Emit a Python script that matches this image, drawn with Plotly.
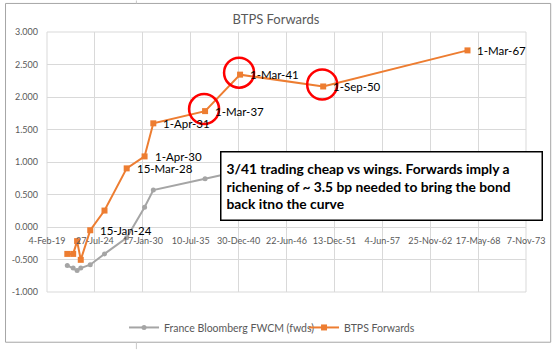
import plotly.graph_objects as go

# ---- data ----
dates = ["2021-06-01", "2022-02-01", "2022-07-15", "2022-12-15", "2024-01-15",
         "2025-09-01", "2028-03-15", "2030-04-01", "2031-04-01", "2037-03-01",
         "2041-03-01", "2050-09-01", "2067-03-01"]
btps_fwd = [-0.414, -0.414, -0.217, -0.505, -0.050, 0.253, 0.902, 1.086,
            1.595, 1.783, 2.344, 2.162, 2.717]
btps_labels = ["", "", "", "", "15-Jan-24", "", "15-Mar-28", "1-Apr-30",
               "1-Apr-31", "1-Mar-37", "1-Mar-41", "1-Sep-50", "1-Mar-67"]
france_fwcm = [-0.591, -0.632, -0.671, -0.632, -0.580, -0.414, -0.167, 0.303,
               0.568, 0.742, 0.86, 0.98, 1.10]
circled_idx = [9, 10, 11]

x_tickvals = ["2019-02-04", "2024-07-27", "2030-01-17", "2035-07-10", "2040-12-30",
              "2046-06-22", "2051-12-13", "2057-06-04", "2062-11-25", "2068-05-17",
              "2073-11-07"]
x_ticktext = ["4-Feb-19", "27-Jul-24", "17-Jan-30", "10-Jul-35", "30-Dec-40",
              "22-Jun-46", "13-Dec-51", "4-Jun-57", "25-Nov-62", "17-May-68", "7-Nov-73"]
y_tickvals = [-1.0, -0.5, 0.0, 0.5, 1.0, 1.5, 2.0, 2.5, 3.0]
y_ticktext = ["-1.000", "-0.500", "0.000", "0.500", "1.000", "1.500", "2.000",
              "2.500", "3.000"]

title = "BTPS Forwards"
note = ("3/41 trading cheap vs wings. Forwards imply a<br>"
        "richening of ~ 3.5 bp needed to bring the bond<br>"
        "back itno the curve")

# ---- layout geometry (pixels) ----
W, H = 557, 354
L, R, T, B = 43, 528, 32, 296


def px(x):
    return (x - L) / (R - L)


def py(y):
    return (B - y) / (B - T)


FONT = "Lato"
TICKFONT = "Liberation Sans Narrow, Lato"
GREY_TXT = "#595959"
GRID = "#d9d9d9"
ORANGE = "#ED7D31"
GREY = "#A5A5A5"

fig = go.Figure()
fig.add_trace(go.Scatter(
    x=dates, y=france_fwcm, mode="lines+markers",
    name="France Bloomberg FWCM (fwds)",
    line=dict(color=GREY, width=2),
    marker=dict(symbol="circle", size=5, color=GREY),
))
fig.add_trace(go.Scatter(
    x=dates, y=btps_fwd, mode="lines+markers",
    name="BTPS Forwards",
    line=dict(color=ORANGE, width=2),
    marker=dict(symbol="square", size=6, color=ORANGE),
))

shapes = []
# plot area edges (grid coloured)
shapes.append(dict(type="rect", xref="paper", yref="paper", x0=0, x1=1, y0=0, y1=1,
                   line=dict(color=GRID, width=1), layer="below"))
# chart outer frame
shapes.append(dict(type="rect", xref="paper", yref="paper",
                   x0=px(1), x1=px(553), y0=py(347), y1=py(3),
                   line=dict(color="#a6a6a6", width=1)))
# spreadsheet cell border peeking out
shapes.append(dict(type="line", xref="paper", yref="paper",
                   x0=px(133.5), x1=px(133.5), y0=py(0), y1=py(3),
                   line=dict(color="#c8c8c8", width=1)))
shapes.append(dict(type="line", xref="paper", yref="paper",
                   x0=px(133.5), x1=px(133.5), y0=py(347), y1=py(354),
                   line=dict(color="#c8c8c8", width=1)))
# red circles
for i in circled_idx:
    shapes.append(dict(type="circle", xref="x", yref="y",
                       xsizemode="pixel", ysizemode="pixel",
                       xanchor=dates[i], yanchor=btps_fwd[i],
                       x0=-16, x1=14, y0=-13, y1=17,
                       line=dict(color="#FF0000", width=2.5)))

annotations = []
# point labels
for d, v, lab in zip(dates, btps_fwd, btps_labels):
    if lab:
        annotations.append(dict(
            x=d, y=v, xref="x", yref="y", text=lab, showarrow=False,
            xanchor="left", yanchor="middle", xshift=8, yshift=0,
            font=dict(family=FONT, size=11.5, color="#000000")))

annotations.append(dict(
    xref="paper", yref="paper", x=px(218), y=py(153),
    xanchor="left", yanchor="top", showarrow=False, align="left",
    text="<b>" + note + "</b>",
    font=dict(family=FONT, size=13.8, color="#000000"),
    bgcolor="#ffffff", bordercolor="#000000", borderwidth=1.5, borderpad=5,
    width=310, height=57,
))

fig.update_layout(
    width=W, height=H,
    margin=dict(l=L, r=W - R, t=T, b=H - B),
    paper_bgcolor="#ffffff", plot_bgcolor="#ffffff",
    font=dict(family=FONT, color=GREY_TXT),
    title=dict(text=title, x=276 / W, xanchor="center", xref="container",
               y=1 - 19 / H, yanchor="middle", yref="container",
               font=dict(family=FONT, size=13, color=GREY_TXT)),
    showlegend=True,
    legend=dict(orientation="h", x=px(121), y=py(332), xanchor="left", yanchor="middle",
                font=dict(family=FONT, size=10.5, color=GREY_TXT),
                bgcolor="rgba(0,0,0,0)", itemwidth=30,
                entrywidth=135, entrywidthmode="pixels"),
    xaxis=dict(type="date", range=[x_tickvals[0], x_tickvals[-1]],
               tickmode="array", tickvals=x_tickvals, ticktext=x_ticktext,
               tickangle=0,
               showgrid=True, gridcolor=GRID, gridwidth=1, zeroline=False,
               showline=False, ticks="", anchor="free", position=0.25,
               ticklabelstandoff=7,
               tickfont=dict(family=TICKFONT, size=9, color=GREY_TXT)),
    yaxis=dict(range=[-1, 3], tickmode="array", tickvals=y_tickvals, ticktext=y_ticktext,
               showgrid=True, gridcolor=GRID, gridwidth=1, zeroline=False,
               showline=False, ticks="", ticklabelstandoff=8,
               tickfont=dict(family=TICKFONT, size=9, color=GREY_TXT)),
    shapes=shapes,
    annotations=annotations,
)

fig.write_html("out.html")
